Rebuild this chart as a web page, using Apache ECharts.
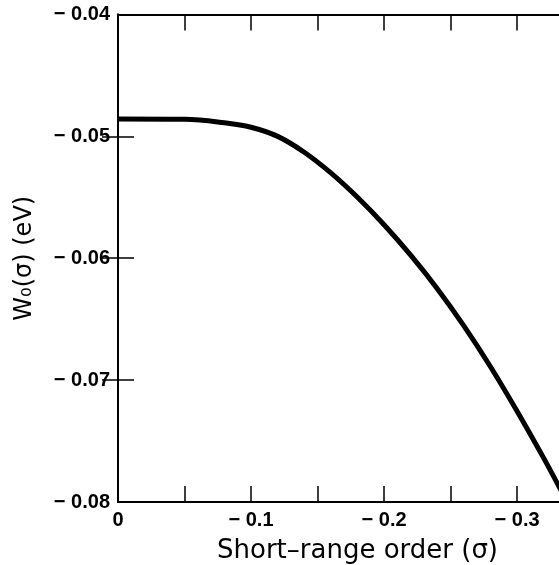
<!DOCTYPE html>
<html>
<head>
<meta charset="utf-8">
<script src="https://cdn.jsdelivr.net/npm/echarts@6/dist/echarts.min.js"></script>
<style>
  html, body { margin: 0; padding: 0; background: #fff; overflow: hidden; }
  #chart { position: absolute; left: 0; top: 0; width: 600px; height: 565px; }
</style>
</head>
<body>
<div id="chart"></div>
<script>
// short-range order sigma and W0(sigma) in eV
const sigma = [0, -0.05, -0.08, -0.10, -0.12, -0.14, -0.16, -0.18, -0.20, -0.22, -0.24, -0.26, -0.28, -0.30, -0.32, -0.333];
const w0 = [-0.04857, -0.0486, -0.04888, -0.04925, -0.05, -0.0513, -0.053, -0.055, -0.05725, -0.05975, -0.0625, -0.06555, -0.0689, -0.07255, -0.0764, -0.07905];

const xLabels = [0, -0.1, -0.2, -0.3];
const xTicks = [0, -0.05, -0.1, -0.15, -0.2, -0.25, -0.3];
const yTicks = [-0.05, -0.06, -0.07];

const FONT = 'DejaVu Sans';
const TICKFONT = 'Liberation Sans';
const minus = (s) => s.replace('-', '\u2212 ');

const chart = echarts.init(document.getElementById('chart'));

const axisLine = { show: true, lineStyle: { color: '#000', width: 2 } };
const tick = (vals) => ({
  show: true, inside: true, length: 16, customValues: vals,
  lineStyle: { color: '#000', width: 1.5 }
});
const tickText = { fontFamily: TICKFONT, fontSize: 20, fontWeight: 'bold', color: '#000' };

chart.setOption({
  animation: false,
  backgroundColor: '#fff',
  grid: { left: 118, right: 39, top: 14.5, bottom: 63, outerBoundsMode: 'none', containLabel: false },
  xAxis: [
    {
      type: 'value', inverse: true, min: -0.333, max: 0,
      position: 'bottom',
      axisLine,
      axisTick: tick(xTicks),
      axisLabel: Object.assign({
        customValues: xLabels, margin: 8,
        formatter: (v) => v === 0 ? '0' : minus(v.toFixed(1))
      }, tickText),
      splitLine: { show: false },
      name: 'Short\u2013range order (\u03c3)',
      nameLocation: 'middle', nameGap: 36,
      nameTextStyle: { fontFamily: FONT, fontSize: 26, color: '#000', padding: [0, 0, 0, 36] }
    },
    {
      type: 'value', inverse: true, min: -0.333, max: 0,
      position: 'top',
      axisLine,
      axisTick: tick(xTicks),
      axisLabel: { show: false },
      splitLine: { show: false }
    }
  ],
  yAxis: [
    {
      type: 'value', min: -0.08, max: -0.04, interval: 0.01,
      position: 'left',
      axisLine,
      axisTick: tick(yTicks),
      axisLabel: Object.assign({
        margin: 8,
        formatter: (v) => minus(v.toFixed(2))
      }, tickText),
      splitLine: { show: false },
      name: 'W\u2080(\u03c3) (eV)',
      nameLocation: 'middle', nameGap: 81,
      nameTextStyle: { fontFamily: FONT, fontSize: 24, color: '#000' }
    },
    {
      type: 'value', min: -0.08, max: -0.04, interval: 0.01,
      position: 'right',
      axisLine,
      axisTick: tick(yTicks),
      axisLabel: { show: false },
      splitLine: { show: false }
    }
  ],
  series: [
    {
      type: 'line',
      data: sigma.map((s, i) => [s, w0[i]]),
      showSymbol: false,
      smooth: 0.4,
      clip: true,
      lineStyle: { color: '#000', width: 5 }
    }
  ]
});
</script>
</body>
</html>
